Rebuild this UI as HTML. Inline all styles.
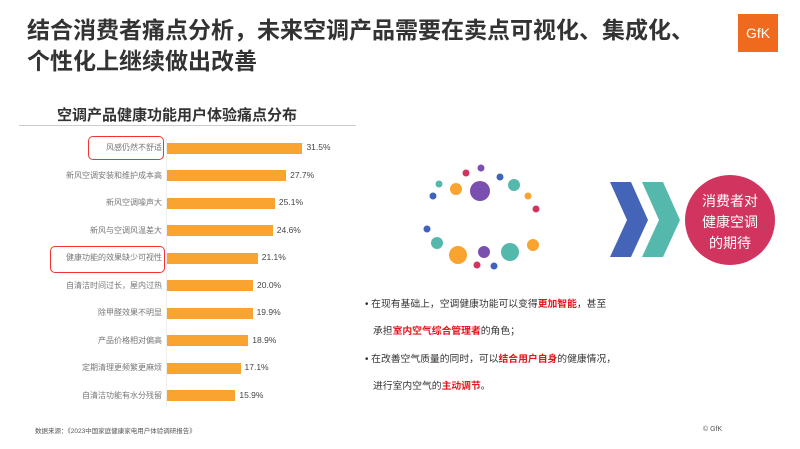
<!DOCTYPE html>
<html><head><meta charset="utf-8"><style>
body{margin:0;width:800px;height:449px;background:#fff;overflow:hidden;position:relative;font-family:"Liberation Sans","Noto Sans CJK SC",sans-serif;}
.a{position:absolute;white-space:nowrap;}
.t{left:27px;font-size:23px;font-weight:bold;color:#333;line-height:30px;}
.lab{right:638px;font-size:8px;color:#777;}
.bar{position:absolute;left:167px;height:11px;background:#f9a330;}
.val{font-size:8.5px;color:#444;}
.txt{font-size:9.8px;color:#333;left:365px;}
.r{color:#e8141c;font-weight:bold;}
</style></head><body>
<div class="a t" style="top:15px">结合消费者痛点分析，未来空调产品需要在卖点可视化、集成化、</div>
<div class="a t" style="top:46px">个性化上继续做出改善</div>
<div class="a" style="left:738px;top:14px;width:40px;height:38px;background:#ef6a1c;color:#fff;font-size:14px;text-align:center;line-height:38px;">GfK</div>
<div class="a" style="left:57px;top:104px;font-size:15px;font-weight:bold;color:#333;">空调产品健康功能用户体验痛点分布</div>
<div class="a" style="left:19px;top:125px;width:337px;height:1px;background:#ccc;"></div>
<div class="a" style="left:166px;top:135px;width:1px;height:272px;background:#eee;"></div>
<div id="c"></div>
<div class="a" style="left:88px;top:136px;width:76px;height:24px;border:1.5px solid #e33;border-radius:5px;box-sizing:border-box;"></div>
<div class="a" style="left:50px;top:246px;width:115px;height:27px;border:1.5px solid #e33;border-radius:5px;box-sizing:border-box;"></div>
<div class="a" style="left:35px;top:425px;font-size:6.5px;color:#555;">数据来源：《2023中国家庭健康家电用户体验调研报告》</div>
<div class="a" style="left:703px;top:426px;font-size:7px;color:#555;">© GfK</div>
<svg class="a" style="left:0;top:0" width="800" height="449">
<g>
<circle cx="481" cy="168" r="3.5" fill="#7b4fb0"/><circle cx="466" cy="173" r="3.5" fill="#d0345f"/>
<circle cx="500" cy="177" r="3.5" fill="#3f63bd"/><circle cx="439" cy="184" r="3.5" fill="#55b8ad"/>
<circle cx="456" cy="189" r="6" fill="#f9a330"/><circle cx="480" cy="191" r="10" fill="#7b4fb0"/>
<circle cx="514" cy="185" r="6" fill="#55b8ad"/><circle cx="433" cy="196" r="3.5" fill="#3f63bd"/>
<circle cx="528" cy="196" r="3.5" fill="#f9a330"/><circle cx="536" cy="209" r="3.5" fill="#d0345f"/>
<circle cx="427" cy="229" r="3.5" fill="#3f63bd"/><circle cx="437" cy="243" r="6" fill="#55b8ad"/>
<circle cx="458" cy="255" r="9" fill="#f9a330"/><circle cx="484" cy="252" r="6" fill="#7b4fb0"/>
<circle cx="510" cy="252" r="9" fill="#55b8ad"/><circle cx="533" cy="245" r="6" fill="#f9a330"/>
<circle cx="477" cy="265" r="3.5" fill="#d0345f"/><circle cx="494" cy="266" r="3.5" fill="#3f63bd"/>
</g>
<polygon points="610,182 631,182 648,220 631,257 610,257 627,220" fill="#4464b8"/>
<polygon points="642,182 663,182 680,220 663,257 642,257 659,220" fill="#55b8ad"/>
<circle cx="730" cy="220" r="45" fill="#d0345f"/>
<text x="730" y="206" font-size="14" fill="#fff" text-anchor="middle">消费者对</text>
<text x="730" y="227" font-size="14" fill="#fff" text-anchor="middle">健康空调</text>
<text x="730" y="248" font-size="14" fill="#fff" text-anchor="middle">的期待</text>
</svg>
<div class="a txt" style="top:296px">• 在现有基础上，空调健康功能可以变得<span class="r">更加智能</span>，甚至</div>
<div class="a txt" style="top:323px;left:373px">承担<span class="r">室内空气综合管理者</span>的角色；</div>
<div class="a txt" style="top:351px">• 在改善空气质量的同时，可以<span class="r">结合用户自身</span>的健康情况，</div>
<div class="a txt" style="top:378px;left:373px">进行室内空气的<span class="r">主动调节</span>。</div>
<script>
var d=[["风感仍然不舒适",31.5],["新风空调安装和维护成本高",27.7],["新风空调噪声大",25.1],["新风与空调风温差大",24.6],["健康功能的效果缺少可视性",21.1],["自清洁时间过长，屋内过热",20.0],["除甲醛效果不明显",19.9],["产品价格相对偏高",18.9],["定期清理更频繁更麻烦",17.1],["自清洁功能有水分残留",15.9]];
var h="";d.forEach(function(e,i){var y=148+i*27.5,w=e[1]*4.3;
h+='<div class="a lab" style="top:'+(y-6)+'px">'+e[0]+'</div><div class="bar" style="top:'+(y-5.5)+'px;width:'+w+'px"></div><div class="a val" style="left:'+(171+w)+'px;top:'+(y-6)+'px">'+e[1].toFixed(1)+'%</div>';});
document.getElementById("c").innerHTML=h;
</script>
</body></html>
